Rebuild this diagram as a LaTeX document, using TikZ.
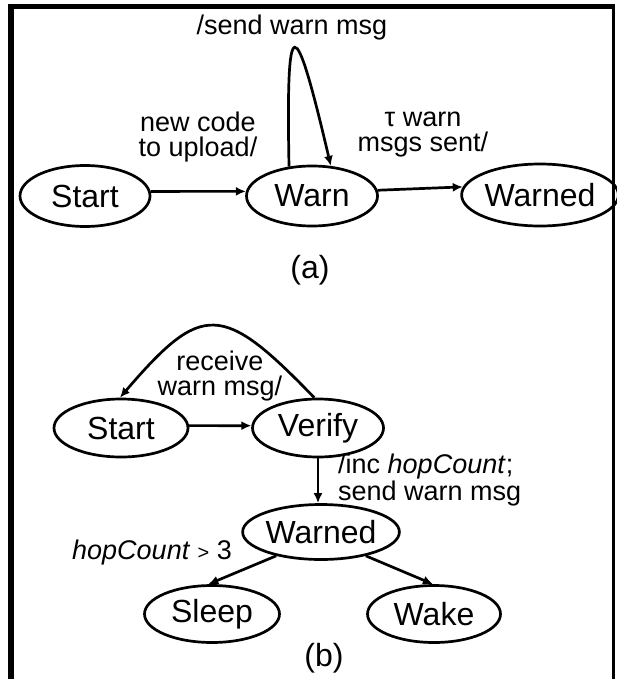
\documentclass[tikz,border=0pt]{standalone}
\usepackage{fontspec}
\setmainfont{Liberation Sans}
\usetikzlibrary{shapes.geometric,arrows.meta}

\begin{document}
\begin{tikzpicture}[x=1pt,y=-1pt,
  state/.style={draw,ellipse,line width=2.7pt,inner sep=0pt,font=\fontsize{32}{32}\selectfont},
  lbl/.style={align=center,inner sep=0pt,font=\fontsize{27}{25}\selectfont},
  arr/.style={line width=2.7pt,-{Latex[length=10pt,width=9pt]}}]

\useasboundingbox (0,0) rectangle (616,679);

% frame, open at the bottom
\draw[line width=6pt] (11,679) -- (11,4);
\draw[line width=5pt] (8,6.5) -- (615,6.5);
\draw[line width=3pt] (613.5,4) -- (613.5,679);

% (a)
\node[state,minimum width=130pt,minimum height=61pt] (startA)  at (85,196)  {Start};
\node[state,minimum width=131pt,minimum height=60pt] (warnA)   at (312,196) {Warn};
\node[state,minimum width=135pt,minimum height=62pt] (warnedA) at (540,195) {Warned};

\draw[arr] (startA.4) -- (warnA.176);
\draw[arr] (warnA.5) -- (warnedA.174);
\draw[arr] (warnA.128) .. controls (286,9) and (294,9) .. (warnA.58);

\node[lbl] (sendA)   at (292,28)  {/send warn msg};
\node[lbl] (uploadA) at (198,137) {new code\\to upload/};
\node[lbl] (sentA)   at (423,135) {τ warn\\msgs sent/};
\node[state,draw=none] (capA) at (310,270) {(a)};

% (b)
\node[state,minimum width=134pt,minimum height=58pt] (startB)  at (121,428) {Start};
\node[state,minimum width=131pt,minimum height=58pt] (verifyB) at (318,428) {Verify};
\node[state,minimum width=134pt,minimum height=55pt] (warnedB) at (321,532) {Warned};
\node[state,minimum width=135pt,minimum height=57pt] (sleepB)  at (212,614) {Sleep};
\node[state,minimum width=133pt,minimum height=57pt] (wakeB)   at (434,614) {Wake};

\draw[arr] (startB.2) -- (verifyB.178);
\draw[arr] (verifyB.97) .. controls (222,302) and (202,302) .. (startB.92);
\draw[arr] (verifyB.south) -- (verifyB.south |- warnedB.north);
\draw[arr] (warnedB.208) -- (sleepB.97);
\draw[arr] (warnedB.332) -- (wakeB.92);

\node[lbl] (recvB) at (220,376) {receive\\warn msg/};
\node[lbl,align=left,anchor=west] (incB) at (338,480) {/inc \textit{hopCount};\\send warn msg};
\node[lbl,anchor=west] (hopB) at (72,553) {\textit{hopCount} {\fontsize{20}{20}\selectfont >} 3};
\node[state,draw=none] (capB) at (324,658) {(b)};

\end{tikzpicture}
\end{document}
